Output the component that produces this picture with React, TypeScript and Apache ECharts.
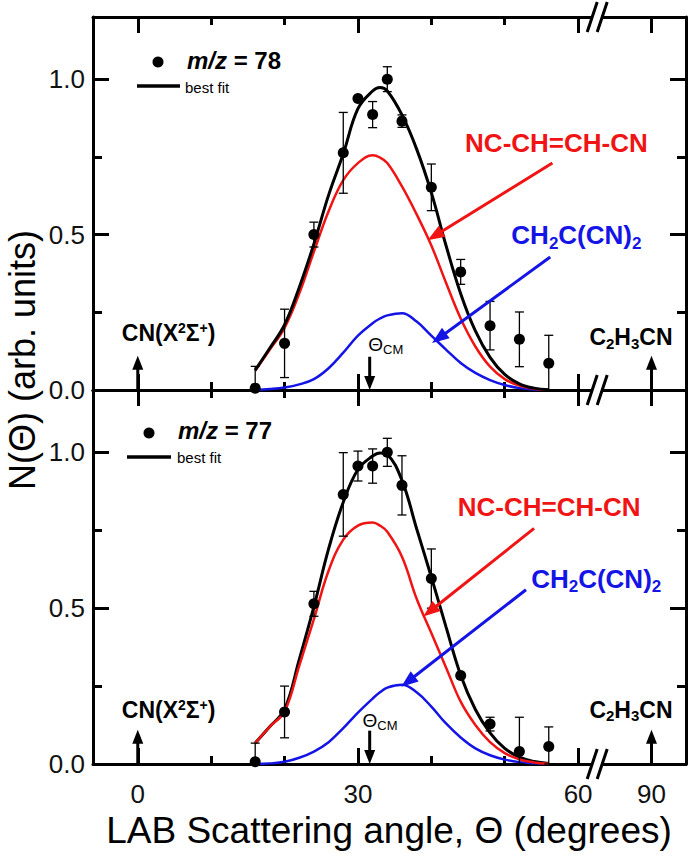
import React, { useEffect, useRef } from 'react';
import * as echarts from 'echarts';

// ---------- data ----------
const pointAngles = [16, 20, 24, 28, 30, 32, 34, 36, 40, 44, 48, 52, 56];
const signal78 = [0.006, 0.15, 0.5, 0.763, 0.938, 0.886, 1.0, 0.865, 0.652, 0.38, 0.207, 0.163, 0.086];
const error78 = [0.07, 0.11, 0.04, 0.13, 0.0, 0.042, 0.04, 0.02, 0.075, 0.04, 0.078, 0.088, 0.09];
const signal77 = [0.007, 0.167, 0.514, 0.865, 0.956, 0.956, 1.0, 0.894, 0.595, 0.284, 0.128, 0.04, 0.056];
const error77 = [0.06, 0.083, 0.04, 0.134, 0.048, 0.055, 0.045, 0.095, 0.095, 0.0, 0.022, 0.11, 0.063];

const fitAngles = [16, 18, 20, 22, 24, 26, 28, 30, 32, 33, 34, 36, 38, 40, 42, 44, 46, 48, 50, 52, 54, 56];
const bestFit78 = [0.064, 0.135, 0.21, 0.33, 0.47, 0.627, 0.76, 0.905, 0.962, 0.973, 0.962, 0.885, 0.775, 0.635, 0.465, 0.31, 0.19, 0.105, 0.05, 0.02, 0.006, 0.001];
const ncchchcn78 = [0.062, 0.13, 0.2, 0.31, 0.445, 0.575, 0.675, 0.73, 0.755, 0.748, 0.73, 0.655, 0.565, 0.465, 0.345, 0.23, 0.14, 0.075, 0.035, 0.014, 0.004, 0.001];
const ch2ccn78 = [0, 0.003, 0.008, 0.018, 0.035, 0.07, 0.12, 0.175, 0.215, 0.23, 0.24, 0.247, 0.22, 0.175, 0.13, 0.087, 0.055, 0.032, 0.016, 0.006, 0.002, 0];

const bestFit77 = [0.067, 0.12, 0.175, 0.335, 0.505, 0.69, 0.84, 0.945, 0.988, 0.998, 0.993, 0.91, 0.755, 0.6, 0.44, 0.285, 0.175, 0.1, 0.05, 0.022, 0.008, 0.002];
const ncchchcn77 = [0.067, 0.12, 0.168, 0.315, 0.465, 0.62, 0.72, 0.765, 0.775, 0.765, 0.745, 0.665, 0.53, 0.42, 0.31, 0.2, 0.125, 0.07, 0.035, 0.015, 0.005, 0.001];
const ch2ccn77 = [0, 0.002, 0.007, 0.02, 0.04, 0.07, 0.115, 0.165, 0.21, 0.23, 0.245, 0.254, 0.23, 0.184, 0.13, 0.085, 0.05, 0.028, 0.014, 0.006, 0.002, 0];

const majorAngles = [0, 30, 60, 90];
const majorAngleLabels = ['0', '30', '60', '90'];
const minorAngles = [10, 20, 40, 50];
const yLabelValues = [0, 0.5, 1.0];
const yMajorTicks = [0.5, 1.0];
const yMinorTicks = [0.25, 0.75];

const cmAngle = 31.6;
const cnAngle = 0;
const vinylAngle = 90;

// ---------- axis break (60 | 90) ----------
const BREAK_AT = 62.6;
const BREAK_SHIFT = 20;
const toAxis = (deg: number) => (deg > BREAK_AT ? deg - BREAK_SHIFT : deg);
const X_MIN = -6.1;
const X_MAX = 74.7;

const FONT = '"Liberation Sans", Arial, Helvetica, sans-serif';
const RED = '#f01414';
const BLUE = '#1414e6';

const majorAxisVals = majorAngles.map(toAxis);

function xAxesFor(grid: number, labels: boolean) {
  const base = { type: 'value', gridIndex: grid, min: X_MIN, max: X_MAX, splitLine: { show: false } };
  const line = { show: true, onZero: false, lineStyle: { color: '#000', width: 3 } };
  const mk = (pos: string, major: boolean) => ({
    ...base,
    position: pos,
    axisLine: major ? line : { show: false, onZero: false },
    axisTick: {
      show: true,
      inside: true,
      length: major ? 16 : 8,
      lineStyle: { color: '#000', width: 3 },
      customValues: major ? majorAxisVals : minorAngles,
    },
    axisLabel: {
      show: labels && major && pos === 'bottom',
      customValues: majorAxisVals,
      formatter: (v: number) => {
        const i = majorAxisVals.findIndex((m) => Math.abs(m - v) < 1e-6);
        return i >= 0 ? majorAngleLabels[i] : '';
      },
      fontSize: 26,
      fontFamily: FONT,
      color: '#111',
      margin: 17,
    },
  });
  return [mk('bottom', true), mk('bottom', false), mk('top', true), mk('top', false)];
}

function yAxesFor(grid: number) {
  const base = { type: 'value', gridIndex: grid, min: 0, max: 1.2, splitLine: { show: false } };
  const line = { show: true, onZero: false, lineStyle: { color: '#000', width: 3 } };
  const mk = (pos: string, major: boolean) => ({
    ...base,
    position: pos,
    axisLine: major ? line : { show: false, onZero: false },
    axisTick: {
      show: true,
      inside: true,
      length: major ? 16 : 9,
      lineStyle: { color: '#000', width: 3 },
      customValues: major ? yMajorTicks : yMinorTicks,
    },
    axisLabel: {
      show: major && pos === 'left',
      customValues: yLabelValues,
      formatter: (v: number) => v.toFixed(1),
      fontSize: 26,
      fontFamily: FONT,
      color: '#111',
      margin: 8,
    },
  });
  return [mk('left', true), mk('left', false), mk('right', true), mk('right', false)];
}

function panelSeries(g: number, sig: number[], err: number[], fit: number[], red: number[], blue: number[], redOnTop: boolean) {
  const ai = g * 4;
  const errData = pointAngles
    .map((a, i) => [a, Math.max(0, sig[i] - err[i]), sig[i] + err[i]])
    .filter((d, i) => err[i] > 0);
  const line = (data: number[], color: string, width: number, z: number) => ({
    type: 'line',
    xAxisIndex: ai,
    yAxisIndex: ai,
    data: fitAngles.map((a, i) => [a, data[i]]),
    smooth: 0.4,
    showSymbol: false,
    symbol: 'none',
    lineStyle: { color, width },
    z,
    silent: true,
  });
  return [
    {
      type: 'custom',
      xAxisIndex: ai,
      yAxisIndex: ai,
      data: errData,
      encode: { x: 0, y: [1, 2] },
      z: 5,
      silent: true,
      renderItem: (params: any, api: any) => {
        const x = api.value(0);
        const p1 = api.coord([x, api.value(1)]);
        const p2 = api.coord([x, api.value(2)]);
        const cap = 4.5;
        const style = { stroke: '#000', lineWidth: 1.3 };
        return {
          type: 'group',
          children: [
            { type: 'line', shape: { x1: p1[0], y1: p1[1], x2: p2[0], y2: p2[1] }, style },
            { type: 'line', shape: { x1: p1[0] - cap, y1: p1[1], x2: p1[0] + cap, y2: p1[1] }, style },
            { type: 'line', shape: { x1: p2[0] - cap, y1: p2[1], x2: p2[0] + cap, y2: p2[1] }, style },
          ],
        };
      },
    },
    line(blue, BLUE, 2.5, 2),
    line(red, RED, 2.5, redOnTop ? 4 : 2),
    line(fit, '#000', 3, 3),
    {
      type: 'scatter',
      xAxisIndex: ai,
      yAxisIndex: ai,
      data: pointAngles.map((a, i) => [a, sig[i]]),
      symbol: 'circle',
      symbolSize: 11,
      itemStyle: { color: '#000', opacity: 1 },
      z: 6,
      silent: true,
    },
  ];
}

// annotation anchors in data coordinates [angle, N]
const annot = [
  {
    redFrom: [56.5, 0.73], redTo: [39.5, 0.482],
    blueFrom: [56.2, 0.428], blueTo: [40.1, 0.151],
    redText: [44.6, 0.794], blueText: [50.9, 0.498],
    cnText: [4.2, 0.183], vinylText: [87.2, 0.17],
    cmText: [33.8, 0.145],
  },
  {
    redFrom: [54.0, 0.756], redTo: [38.9, 0.473],
    blueFrom: [52.9, 0.559], blueTo: [35.9, 0.248],
    redText: [43.6, 0.826], blueText: [53.6, 0.595],
    cnText: [4.2, 0.174], vinylText: [87.2, 0.174],
    cmText: [33.0, 0.141],
  },
];

function arrow(p1: number[], p2: number[], color: string, w: number, headL: number, headW: number) {
  const dx = p2[0] - p1[0];
  const dy = p2[1] - p1[1];
  const len = Math.hypot(dx, dy);
  const ux = dx / len;
  const uy = dy / len;
  const bx = p2[0] - ux * headL;
  const by = p2[1] - uy * headL;
  const nx = -uy;
  const ny = ux;
  return [
    { type: 'line', z: 50, shape: { x1: p1[0], y1: p1[1], x2: bx + ux * 2, y2: by + uy * 2 }, style: { stroke: color, lineWidth: w } },
    {
      type: 'polygon',
      z: 50,
      shape: { points: [[p2[0], p2[1]], [bx + (nx * headW) / 2, by + (ny * headW) / 2], [bx - (nx * headW) / 2, by - (ny * headW) / 2]] },
      style: { fill: color },
    },
  ];
}

let measureCtx: CanvasRenderingContext2D | null = null;
function fontStr(fs: number, bold: boolean, italic: boolean) {
  return `${italic ? 'italic ' : ''}${bold ? 'bold ' : ''}${fs}px ${FONT}`;
}
function textWidth(t: string, fs: number, bold: boolean, italic: boolean) {
  if (!measureCtx) measureCtx = document.createElement('canvas').getContext('2d');
  if (!measureCtx) return t.length * fs * 0.6;
  measureCtx.font = fontStr(fs, bold, italic);
  return measureCtx.measureText(t).width;
}

type Piece = { t: string; fs: number; b?: boolean; i?: boolean; dy?: number };
// a run of text pieces (for sub/superscripts), y is the middle of the main text
function run(x: number, y: number, pieces: Piece[], color: string, align: 'left' | 'center') {
  const widths = pieces.map((p) => textWidth(p.t, p.fs, !!p.b, !!p.i));
  const total = widths.reduce((s, w) => s + w, 0);
  let cx = align === 'center' ? x - total / 2 : x;
  const out: any[] = [];
  pieces.forEach((p, k) => {
    out.push({
      type: 'text',
      z: 60,
      x: cx,
      y: y + (p.dy || 0),
      style: {
        text: p.t,
        fontFamily: FONT,
        fontSize: p.fs,
        fontWeight: p.b ? 'bold' : 'normal',
        fontStyle: p.i ? 'italic' : 'normal',
        fill: color,
        align: 'left',
        textAlign: 'left',
        verticalAlign: 'middle',
        textVerticalAlign: 'middle',
      },
    });
    cx += widths[k];
  });
  return out;
}

export default function App() {
  const ref = useRef<HTMLDivElement>(null);
  useEffect(() => {
    if (!ref.current) return;
    const chart = echarts.init(ref.current, undefined, { renderer: 'svg' });
    const option: any = {
      animation: false,
      backgroundColor: '#fff',
      grid: [
        { left: 93, right: 3, top: 17, height: 373 },
        { left: 93, right: 3, top: 390, height: 374 },
      ],
      xAxis: [...xAxesFor(0, false), ...xAxesFor(1, true)],
      yAxis: [...yAxesFor(0), ...yAxesFor(1)],
      series: [
        ...panelSeries(0, signal78, error78, bestFit78, ncchchcn78, ch2ccn78, false),
        ...panelSeries(1, signal77, error77, bestFit77, ncchchcn77, ch2ccn77, true),
      ],
    };
    chart.setOption(option);

    const px = (g: number, x: number, y: number) =>
      chart.convertToPixel({ xAxisIndex: g * 4, yAxisIndex: g * 4 } as any, [toAxis(x), y]) as number[];

    const els: any[] = [];
    for (let g = 0; g < 2; g++) {
      const a = annot[g];
      els.push(...arrow(px(g, a.redFrom[0], a.redFrom[1]), px(g, a.redTo[0], a.redTo[1]), RED, 3, 17, 13));
      els.push(...arrow(px(g, a.blueFrom[0], a.blueFrom[1]), px(g, a.blueTo[0], a.blueTo[1]), BLUE, 3, 17, 13));
      els.push(...arrow(px(g, cnAngle, 0), px(g, cnAngle, 0.11), '#000', 3, 14, 11));
      els.push(...arrow(px(g, vinylAngle, 0), px(g, vinylAngle, 0.11), '#000', 3, 14, 11));
      els.push(...arrow(px(g, cmAngle, 0.107), px(g, cmAngle, 0.0), '#000', 3, 14, 11));

      const rt = px(g, a.redText[0], a.redText[1]);
      els.push(...run(rt[0], rt[1], [{ t: 'NC-CH=CH-CN', fs: 26, b: true }], RED, 'left'));
      const bt = px(g, a.blueText[0], a.blueText[1]);
      els.push(
        ...run(bt[0], bt[1], [
          { t: 'CH', fs: 26, b: true },
          { t: '2', fs: 17, b: true, dy: 8 },
          { t: 'C(CN)', fs: 26, b: true },
          { t: '2', fs: 17, b: true, dy: 8 },
        ], BLUE, 'left')
      );
      const ct = px(g, a.cnText[0], a.cnText[1]);
      els.push(
        ...run(ct[0], ct[1], [
          { t: 'CN(X', fs: 23, b: true },
          { t: '2', fs: 14, b: true, dy: -5 },
          { t: 'Σ', fs: 23, b: true },
          { t: '+', fs: 14, b: true, dy: -5 },
          { t: ')', fs: 23, b: true },
        ], '#000', 'center')
      );
      const vt = px(g, a.vinylText[0], a.vinylText[1]);
      els.push(
        ...run(vt[0], vt[1], [
          { t: 'C', fs: 23, b: true },
          { t: '2', fs: 15, b: true, dy: 6 },
          { t: 'H', fs: 23, b: true },
          { t: '3', fs: 15, b: true, dy: 6 },
          { t: 'CN', fs: 23, b: true },
        ], '#000', 'center')
      );
      const mt = px(g, a.cmText[0], a.cmText[1]);
      els.push(
        ...run(mt[0], mt[1], [
          { t: 'Θ', fs: 19 },
          { t: 'CM', fs: 13, dy: 5 },
        ], '#000', 'center')
      );

      // axis break marks
      const ys = g === 0 ? [1.2, 0] : [0];
      for (const yv of ys) {
        const p = px(g, BREAK_AT, yv);
        const bxp = p[0];
        const cy = p[1];
        els.push({ type: 'rect', z: 70, shape: { x: bxp - 5, y: cy - 3.5, width: 10, height: 7 }, style: { fill: '#fff' } });
        for (const off of [-5, 5]) {
          els.push({
            type: 'line',
            z: 71,
            shape: { x1: bxp + off - 5, y1: cy + 15, x2: bxp + off + 5, y2: cy - 15 },
            style: { stroke: '#000', lineWidth: 3 },
          });
        }
      }
    }

    // legends
    const legends = [
      { dot: [158, 62], label: '78', textPos: [187, 60], line: [137, 180, 86], fitPos: [185, 87] },
      { dot: [149, 433], label: '77', textPos: [178, 430], line: [127, 171, 457], fitPos: [177, 457] },
    ];
    for (const L of legends) {
      els.push({ type: 'circle', z: 60, shape: { cx: L.dot[0], cy: L.dot[1], r: 5.5 }, style: { fill: '#000' } });
      els.push(
        ...run(L.textPos[0], L.textPos[1], [
          { t: 'm/z', fs: 24, b: true, i: true },
          { t: ' = ' + L.label, fs: 24, b: true },
        ], '#000', 'left')
      );
      els.push({ type: 'line', z: 60, shape: { x1: L.line[0], y1: L.line[2], x2: L.line[1], y2: L.line[2] }, style: { stroke: '#000', lineWidth: 3.5 } });
      els.push(...run(L.fitPos[0], L.fitPos[1], [{ t: 'best fit', fs: 15 }], '#000', 'left'));
    }

    // axis titles
    els.push(...run(389, 830, [{ t: 'LAB Scattering angle, Θ (degrees)', fs: 37 }], '#000', 'center'));
    els.push({
      type: 'text',
      z: 60,
      x: 22,
      y: 360,
      rotation: Math.PI / 2,
      style: {
        text: 'N(Θ) (arb. units)',
        fontFamily: FONT,
        fontSize: 36,
        fill: '#000',
        align: 'center',
        textAlign: 'center',
        verticalAlign: 'middle',
        textVerticalAlign: 'middle',
      },
    });

    chart.setOption({ graphic: { elements: els } });
    return () => chart.dispose();
  }, []);
  return <div ref={ref} style={{ position: 'fixed', left: 0, top: 0, width: 689, height: 856, background: '#fff' }} />;
}
